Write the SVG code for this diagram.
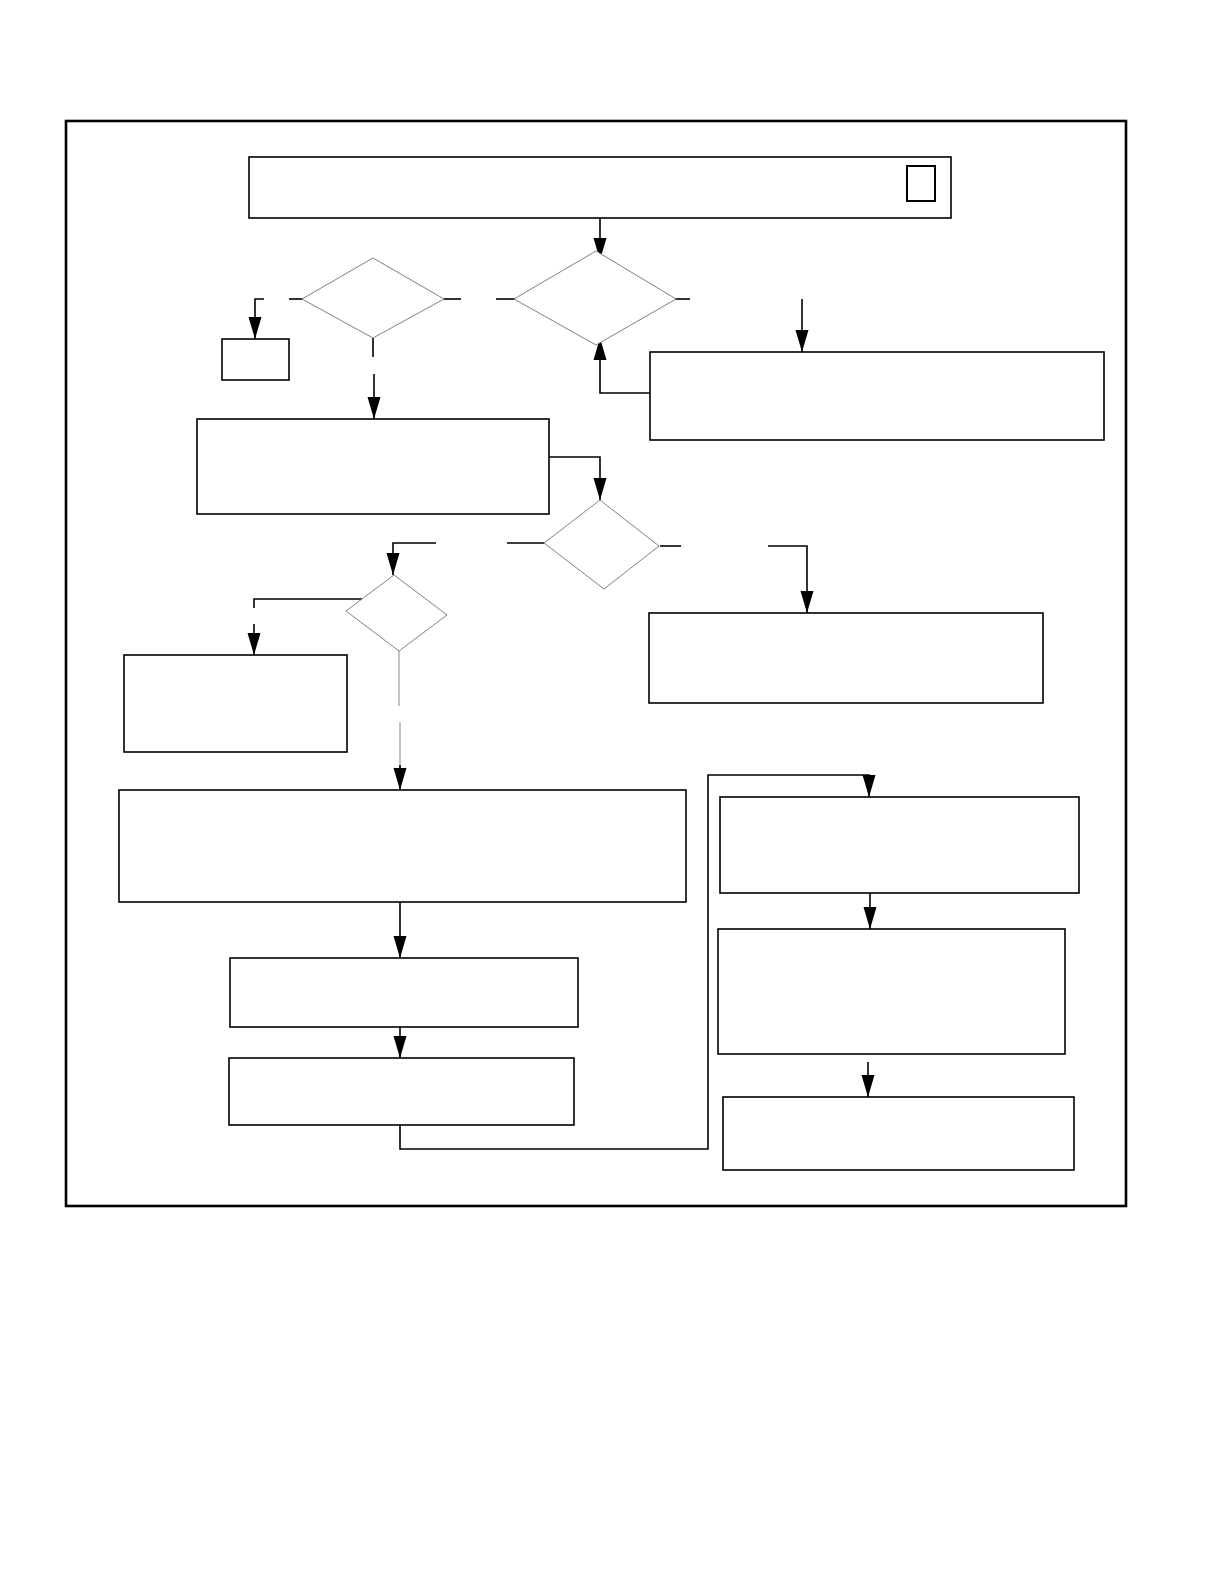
<svg xmlns="http://www.w3.org/2000/svg" width="1225" height="1585" viewBox="0 0 1225 1585">
<style>
.box{fill:#fff;stroke:#000;stroke-width:1.6}
.dia{fill:#fff;stroke:#808080;stroke-width:1}
.ln{fill:none;stroke:#000;stroke-width:1.6}
.lg{fill:none;stroke:#9a9a9a;stroke-width:1.2}
</style>
<defs>
<marker id="ah" viewBox="0 -7 22 14" markerWidth="22" markerHeight="14" refX="22" refY="0" markerUnits="userSpaceOnUse" orient="auto">
<path d="M0,-6.5 L22,0 L0,6.5 Z" fill="#000"/>
</marker>
</defs>
<rect width="1225" height="1585" fill="#fff"/>
<rect id="frame" x="66" y="121" width="1060" height="1085" fill="none" stroke="#000" stroke-width="2.6"/>
<g id="connectors">
<path class="ln" d="M600,218 V260" marker-end="url(#ah)"/>
<path class="ln" d="M264,299 H255 V339" marker-end="url(#ah)"/>
<path class="ln" d="M289,299 H302"/>
<path class="ln" d="M444,299 H461"/>
<path class="ln" d="M496,299 H525"/>
<path class="ln" d="M674,299 H690"/>
<path class="ln" d="M802,299 V352" marker-end="url(#ah)"/>
<path class="ln" d="M650,393 H600 V338" marker-end="url(#ah)"/>
<path class="ln" d="M373,338 V357"/>
<path class="ln" d="M374,374 V419" marker-end="url(#ah)"/>
<path class="ln" d="M549,457 H600 V500" marker-end="url(#ah)"/>
<path class="ln" d="M507,543 H544"/>
<path class="ln" d="M436,543 H393 V575" marker-end="url(#ah)"/>
<path class="ln" d="M660,546 H681"/>
<path class="ln" d="M768,546 H807 V613" marker-end="url(#ah)"/>
<path class="ln" d="M362,599 H254 V608"/>
<path class="ln" d="M254,624 V655" marker-end="url(#ah)"/>
<path class="lg" d="M399,651 V706"/>
<path class="lg" d="M400,722 V770"/>
<path class="ln" d="M400,765 V790" marker-end="url(#ah)"/>
<path class="ln" d="M400,902 V958" marker-end="url(#ah)"/>
<path class="ln" d="M400,1027 V1058" marker-end="url(#ah)"/>
<path class="ln" d="M400,1125 V1149 H708 V775 H869 V797" marker-end="url(#ah)"/>
<path class="ln" d="M870,893 V929" marker-end="url(#ah)"/>
<path class="ln" d="M868,1062 V1097" marker-end="url(#ah)"/>
</g>
<g id="n-top"><rect class="box" x="249" y="157" width="702" height="61"/><rect x="907" y="166" width="28" height="35" fill="none" stroke="#000" stroke-width="2"/></g>
<g id="n-d1"><polygon class="dia" points="373,258 444,299 373,338 302,299"/></g>
<g id="n-small"><rect class="box" x="222" y="339" width="67" height="41"/></g>
<g id="n-d2"><polygon class="dia" points="596,251 676,299 596,345 514,299"/></g>
<g id="n-r1"><rect class="box" x="650" y="352" width="454" height="88"/></g>
<g id="n-a"><rect class="box" x="197" y="419" width="352" height="95"/></g>
<g id="n-d3"><polygon class="dia" points="600,500 659,546 604,589 544,543"/></g>
<g id="n-d4"><polygon class="dia" points="394,575 447,615 399,651 346,611"/></g>
<g id="n-r2"><rect class="box" x="649" y="613" width="394" height="90"/></g>
<g id="n-b"><rect class="box" x="124" y="655" width="223" height="97"/></g>
<g id="n-c"><rect class="box" x="119" y="790" width="567" height="112"/></g>
<g id="n-d"><rect class="box" x="230" y="958" width="348" height="69"/></g>
<g id="n-e"><rect class="box" x="229" y="1058" width="345" height="67"/></g>
<g id="n-f"><rect class="box" x="720" y="797" width="359" height="96"/></g>
<g id="n-g"><rect class="box" x="718" y="929" width="347" height="125"/></g>
<g id="n-h"><rect class="box" x="723" y="1097" width="351" height="73"/></g>
</svg>
